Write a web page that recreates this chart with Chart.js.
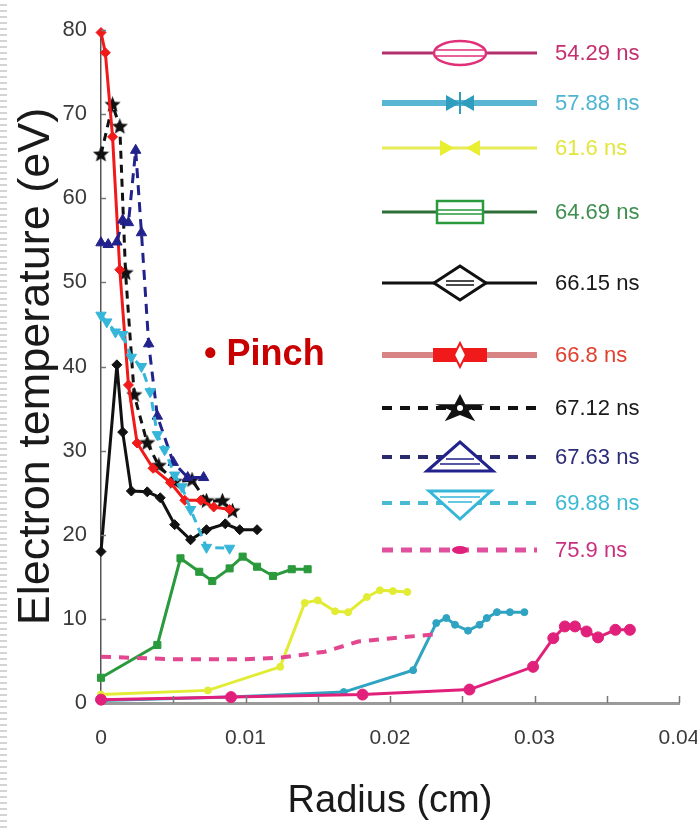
<!DOCTYPE html>
<html>
<head>
<meta charset="utf-8">
<script src="https://cdn.jsdelivr.net/npm/chart.js@4.4.1/dist/chart.umd.min.js"></script>
<style>
html, body { margin: 0; padding: 0; background: #fff; }
#wrap { position: relative; width: 697px; height: 830px; }
#edge { position: absolute; left: 0; top: 0; width: 7px; height: 830px;
        background: repeating-linear-gradient(#fff 0 4px, #d4d4d4 4px 6px); }
#pinch { position: absolute; left: 204px; top: 332px; line-height: 36px;
         font: bold 36px "Liberation Sans", Arial, sans-serif; color: #c80000; white-space: nowrap; }
</style>
</head>
<body>
<div id="wrap">
  <canvas id="chart" width="697" height="830"></canvas>
  <div id="edge"></div>
  <div id="pinch">&bull; Pinch</div>
</div>
<script>
// radius (cm) / electron temperature (eV)
const r5429 = [0, 0.009, 0.0181, 0.0255, 0.0299, 0.0313, 0.0321, 0.0328, 0.0336, 0.0344, 0.0356, 0.0366];
const t5429 = [0.4, 0.7, 1.0, 1.6, 4.3, 7.7, 9.1, 9.1, 8.5, 7.8, 8.7, 8.7];

const r5788 = [0, 0.009, 0.0168, 0.0216, 0.0232, 0.0239, 0.0245, 0.0254, 0.0262, 0.0267, 0.0274, 0.0283, 0.0293];
const t5788 = [0.3, 0.7, 1.3, 3.9, 9.5, 10.1, 9.3, 8.6, 9.3, 10.1, 10.8, 10.8, 10.8];

const r616 = [0, 0.0074, 0.0124, 0.0141, 0.015, 0.0162, 0.0171, 0.0184, 0.0193, 0.0202, 0.0212];
const t616 = [1.0, 1.5, 4.3, 11.9, 12.2, 10.9, 10.8, 12.6, 13.4, 13.3, 13.2];

const r6469 = [0, 0.0039, 0.0055, 0.0068, 0.0077, 0.0089, 0.0098, 0.0108, 0.0119, 0.0132, 0.0143];
const t6469 = [3.0, 6.9, 17.2, 15.6, 14.5, 16.0, 17.4, 16.2, 15.1, 15.9, 15.9];

const r6615 = [0, 0.0011, 0.0015, 0.0021, 0.0032, 0.0041, 0.0051, 0.0062, 0.0073, 0.0086, 0.0096, 0.0108];
const t6615 = [18.0, 40.2, 32.2, 25.2, 25.1, 24.4, 21.2, 19.4, 20.6, 21.3, 20.6, 20.6];

const r668 = [0, 0.0003, 0.0008, 0.0013, 0.0019, 0.0025, 0.0036, 0.0048, 0.0058, 0.0069, 0.0078, 0.0089];
const t668 = [79.7, 77.3, 67.3, 51.5, 37.8, 30.9, 27.9, 26.2, 24.1, 24.1, 23.3, 23.0];

const r6712 = [0, 0.0008, 0.0013, 0.0017, 0.0023, 0.0032, 0.0040, 0.0051, 0.0063, 0.0073, 0.0084, 0.0091];
const t6712 = [65.2, 71.1, 68.5, 51.1, 36.6, 30.9, 28.2, 26.3, 26.5, 24.0, 24.0, 22.8];

const r6763 = [0, 0.0005, 0.0011, 0.0015, 0.0019, 0.0024, 0.0028, 0.0033, 0.0039, 0.005, 0.006, 0.0071];
const t6763 = [54.7, 54.5, 54.8, 57.4, 57.1, 65.7, 55.9, 42.7, 34.1, 28.6, 26.8, 26.8];

const r6988 = [0, 0.0004, 0.001, 0.0015, 0.0021, 0.0028, 0.0034, 0.0039, 0.0044, 0.0051, 0.0056, 0.0062, 0.0073, 0.0089];
const t6988 = [46.1, 45.3, 44.1, 43.8, 41.1, 40.0, 37.0, 31.9, 30.1, 27.1, 25.7, 23.0, 18.5, 18.4];

const r759 = [0, 0.005, 0.010, 0.0125, 0.0155, 0.0178, 0.0195, 0.0233];
const t759 = [5.5, 5.2, 5.2, 5.4, 6.1, 7.3, 7.6, 8.2];

const seriesLabels = ['54.29 ns', '57.88 ns', '61.6 ns', '64.69 ns', '66.15 ns', '66.8 ns', '67.12 ns', '67.63 ns', '69.88 ns', '75.9 ns'];

const xMin = 0, xMax = 0.04, xStep = 0.005;
const yMin = 0, yMax = 80, yStep = 10;

const FONT = '"Liberation Sans", Arial, sans-serif';
Chart.defaults.font.family = FONT;

function pts(xs, ys) {
    return xs.map((x, i) => ({x: x, y: ys[i]}));
}

// filled star used as a point marker
function starCanvas(size, color) {
    const c = document.createElement('canvas');
    c.width = size; c.height = size;
    const g = c.getContext('2d');
    const cx = size / 2, cy = size / 2, ro = size / 2, ri = size / 4.5;
    g.fillStyle = color;
    g.beginPath();
    for (let k = 0; k < 10; k++) {
        const a = -Math.PI / 2 + k * Math.PI / 5;
        const r = k % 2 ? ri : ro;
        g.lineTo(cx + r * Math.cos(a), cy + r * Math.sin(a));
    }
    g.closePath();
    g.fill();
    return c;
}

function line(label, xs, ys, color, extra) {
    return Object.assign({
        label: label,
        data: pts(xs, ys),
        borderColor: color,
        backgroundColor: color,
        borderWidth: 3,
        pointRadius: 4,
        pointBorderWidth: 1,
        pointBorderColor: color,
        pointBackgroundColor: color,
        tension: 0,
        fill: false,
        clip: false
    }, extra || {});
}

const datasets = [
    line(seriesLabels[9], r759, t759, '#e2478f', {borderDash: [10, 8], borderWidth: 4, pointRadius: 0}),
    line(seriesLabels[0], r5429, t5429, '#e0207a', {pointRadius: 5.5}),
    line(seriesLabels[1], r5788, t5788, '#2fa3c2', {pointRadius: 3.5}),
    line(seriesLabels[2], r616, t616, '#e2ec34', {pointRadius: 3.5}),
    line(seriesLabels[3], r6469, t6469, '#2a9a3c', {pointStyle: 'rect', pointRadius: 5}),
    line(seriesLabels[8], r6988, t6988, '#36b6d8', {borderDash: [9, 6], pointStyle: 'triangle', pointRotation: 180, pointRadius: 6}),
    line(seriesLabels[7], r6763, t6763, '#22228c', {borderDash: [10, 7], pointStyle: 'triangle', pointRadius: 6}),
    line(seriesLabels[4], r6615, t6615, '#111111', {pointStyle: 'rectRot', pointRadius: 5}),
    line(seriesLabels[5], r668, t668, '#f01a1a', {pointStyle: 'rectRot', pointRadius: 5}),
    line(seriesLabels[6], r6712, t6712, '#111111', {borderDash: [8, 6], pointStyle: starCanvas(17, '#111')})
];

// legend drawn on the canvas, one row per series
const legendY = [53, 103, 148, 212, 283, 355, 408, 457, 503, 550];
const legendLine = [
    {c: '#b3306c', w: 3, dash: []},
    {c: '#58b6d2', w: 6, dash: []},
    {c: '#e6ec54', w: 3, dash: []},
    {c: '#2f6f3a', w: 3, dash: []},
    {c: '#111', w: 3, dash: []},
    {c: '#d88484', w: 6, dash: []},
    {c: '#111', w: 4, dash: [10, 8]},
    {c: '#2a2a6e', w: 4, dash: [10, 8]},
    {c: '#48bad2', w: 4, dash: [10, 8]},
    {c: '#e0509e', w: 5, dash: [11, 8]}
];
const legendText = ['#c4306e', '#4eb4d0', '#e2e63c', '#3f8f50', '#1a1a1a', '#e0402e', '#1a1a1a', '#2c2c78', '#3cbad4', '#c8307e'];

function drawSymbol(ctx, i, cx, cy) {
    ctx.setLineDash([]);
    ctx.lineJoin = 'miter';
    if (i === 0) {
        ctx.fillStyle = '#fff'; ctx.strokeStyle = '#e0307a'; ctx.lineWidth = 2.5;
        ctx.beginPath(); ctx.ellipse(cx, cy, 26, 12, 0, 0, Math.PI * 2); ctx.fill(); ctx.stroke();
        ctx.lineWidth = 1.5;
        ctx.beginPath();
        ctx.moveTo(cx - 24, cy - 3); ctx.lineTo(cx + 24, cy - 3);
        ctx.moveTo(cx - 24, cy + 3); ctx.lineTo(cx + 24, cy + 3);
        ctx.stroke();
    } else if (i === 1 || i === 2) {
        const col = i === 1 ? '#2f9cc0' : '#e8ee30';
        const gap = i === 1 ? 0 : 6;
        ctx.fillStyle = col; ctx.strokeStyle = col; ctx.lineWidth = 2;
        ctx.beginPath();
        ctx.moveTo(cx - 14 - gap, cy - 8); ctx.lineTo(cx - gap, cy); ctx.lineTo(cx - 14 - gap, cy + 8); ctx.closePath();
        ctx.moveTo(cx + 14 + gap, cy - 8); ctx.lineTo(cx + gap, cy); ctx.lineTo(cx + 14 + gap, cy + 8); ctx.closePath();
        ctx.fill();
        if (i === 1) {
            ctx.beginPath(); ctx.moveTo(cx, cy - 11); ctx.lineTo(cx, cy + 11); ctx.stroke();
        }
    } else if (i === 3) {
        ctx.fillStyle = '#fff'; ctx.strokeStyle = '#2a9a3c'; ctx.lineWidth = 2.5;
        ctx.fillRect(cx - 23, cy - 11, 46, 22);
        ctx.strokeRect(cx - 23, cy - 11, 46, 22);
        ctx.lineWidth = 1.5;
        ctx.beginPath(); ctx.moveTo(cx - 22, cy - 2); ctx.lineTo(cx + 22, cy - 2);
        ctx.moveTo(cx - 22, cy + 2); ctx.lineTo(cx + 22, cy + 2); ctx.stroke();
    } else if (i === 4) {
        ctx.fillStyle = '#fff'; ctx.strokeStyle = '#111'; ctx.lineWidth = 3;
        ctx.beginPath();
        ctx.moveTo(cx - 26, cy); ctx.lineTo(cx, cy - 17); ctx.lineTo(cx + 26, cy); ctx.lineTo(cx, cy + 17); ctx.closePath();
        ctx.fill(); ctx.stroke();
        ctx.lineWidth = 1.5;
        ctx.beginPath(); ctx.moveTo(cx - 14, cy - 2); ctx.lineTo(cx + 14, cy - 2);
        ctx.moveTo(cx - 14, cy + 2); ctx.lineTo(cx + 14, cy + 2); ctx.stroke();
    } else if (i === 5) {
        ctx.fillStyle = '#f01a1a';
        ctx.fillRect(cx - 27, cy - 7, 54, 14);
        ctx.fillStyle = '#fff'; ctx.strokeStyle = '#f01a1a'; ctx.lineWidth = 2;
        ctx.beginPath();
        ctx.moveTo(cx - 6, cy); ctx.lineTo(cx, cy - 12); ctx.lineTo(cx + 6, cy); ctx.lineTo(cx, cy + 12); ctx.closePath();
        ctx.fill(); ctx.stroke();
    } else if (i === 6) {
        ctx.fillStyle = '#111';
        ctx.beginPath();
        for (let k = 0; k < 10; k++) {
            const a = -Math.PI / 2 + k * Math.PI / 5;
            const rx = k % 2 ? 9 : 26, ry = k % 2 ? 6 : 15;
            ctx.lineTo(cx + rx * Math.cos(a), cy + 1 + ry * Math.sin(a));
        }
        ctx.closePath(); ctx.fill();
        ctx.fillStyle = '#fff';
        ctx.beginPath(); ctx.arc(cx, cy, 3, 0, Math.PI * 2); ctx.fill();
    } else if (i === 7) {
        ctx.fillStyle = '#fff'; ctx.strokeStyle = '#22228c'; ctx.lineWidth = 3;
        ctx.beginPath();
        ctx.moveTo(cx - 33, cy + 14); ctx.lineTo(cx, cy - 15); ctx.lineTo(cx + 33, cy + 14); ctx.closePath();
        ctx.fill(); ctx.stroke();
        ctx.lineWidth = 1.5;
        ctx.beginPath(); ctx.moveTo(cx - 14, cy + 2); ctx.lineTo(cx + 14, cy + 2);
        ctx.moveTo(cx - 20, cy + 7); ctx.lineTo(cx + 20, cy + 7); ctx.stroke();
    } else if (i === 8) {
        ctx.fillStyle = '#fff'; ctx.strokeStyle = '#36b6d8'; ctx.lineWidth = 3;
        ctx.beginPath();
        ctx.moveTo(cx - 31, cy - 12); ctx.lineTo(cx, cy + 16); ctx.lineTo(cx + 31, cy - 12); ctx.closePath();
        ctx.fill(); ctx.stroke();
        ctx.lineWidth = 1.5;
        ctx.beginPath(); ctx.moveTo(cx - 20, cy - 6); ctx.lineTo(cx + 20, cy - 6);
        ctx.moveTo(cx - 12, cy - 1); ctx.lineTo(cx + 12, cy - 1); ctx.stroke();
    } else if (i === 9) {
        ctx.fillStyle = '#e0207a';
        ctx.beginPath(); ctx.ellipse(cx, cy, 8, 4, 0, 0, Math.PI * 2); ctx.fill();
    }
}

const extrasPlugin = {
    id: 'extras',
    afterDraw(chart) {
        const ctx = chart.ctx;
        const xs = chart.scales.x, ys = chart.scales.y;
        const area = chart.chartArea;
        ctx.save();
        // small inward tick marks
        ctx.strokeStyle = '#777';
        ctx.lineWidth = 1.5;
        ctx.beginPath();
        for (let v = xMin + xStep; v <= xMax + 1e-9; v += xStep) {
            const px = Math.round(xs.getPixelForValue(v)) + 0.5;
            ctx.moveTo(px, area.bottom); ctx.lineTo(px, area.bottom - 7);
        }
        for (let v = yMin + yStep; v <= yMax; v += yStep) {
            const py = Math.round(ys.getPixelForValue(v)) + 0.5;
            ctx.moveTo(area.left, py); ctx.lineTo(area.left + 5, py);
        }
        ctx.stroke();

        // legend
        const x0 = 382, x1 = 537, cx = 460, tx = 555;
        ctx.font = '22px ' + FONT;
        ctx.textBaseline = 'middle';
        ctx.textAlign = 'left';
        legendY.forEach((y, i) => {
            const ls = legendLine[i];
            ctx.strokeStyle = ls.c;
            ctx.lineWidth = ls.w;
            ctx.setLineDash(ls.dash);
            ctx.lineCap = 'butt';
            ctx.beginPath(); ctx.moveTo(x0, y); ctx.lineTo(x1, y); ctx.stroke();
            drawSymbol(ctx, i, cx, y);
            ctx.fillStyle = legendText[i];
            ctx.fillText(seriesLabels[i], tx, y + 1);
        });
        ctx.restore();
    }
};

new Chart(document.getElementById('chart').getContext('2d'), {
    type: 'line',
    data: {datasets: datasets},
    options: {
        responsive: false,
        animation: false,
        events: [],
        layout: {padding: {top: 30, right: 18, left: 0, bottom: 0}},
        plugins: {legend: {display: false}, tooltip: {enabled: false}},
        scales: {
            x: {
                type: 'linear',
                min: xMin,
                max: xMax,
                afterFit(s) { s.height = 127; s.paddingRight = 0; s.paddingLeft = 0; },
                grid: {display: false, drawTicks: false},
                border: {display: true, color: '#9a9a9a', width: 3},
                ticks: {
                    stepSize: xStep,
                    autoSkip: false,
                    maxRotation: 0,
                    padding: 23,
                    color: '#3a3a3a',
                    font: {size: 21},
                    callback(v) {
                        const k = v / 0.01;
                        return Math.abs(k - Math.round(k)) < 1e-6 ? String(+v.toFixed(2)) : '';
                    }
                },
                title: {display: true, text: 'Radius (cm)', color: '#1a1a1a', font: {size: 38}, padding: {top: 0, bottom: 6}}
            },
            y: {
                type: 'linear',
                min: yMin,
                max: yMax,
                afterFit(s) { s.width = 101; },
                grid: {display: false, drawTicks: false},
                border: {display: true, color: '#555', width: 1.5},
                ticks: {stepSize: yStep, padding: 14, color: '#3a3a3a', font: {size: 22}},
                title: {display: true, text: 'Electron temperature (eV)', color: '#1a1a1a', font: {size: 45}, padding: {top: 10, bottom: 0}}
            }
        }
    },
    plugins: [extrasPlugin]
});
</script>
</body>
</html>
